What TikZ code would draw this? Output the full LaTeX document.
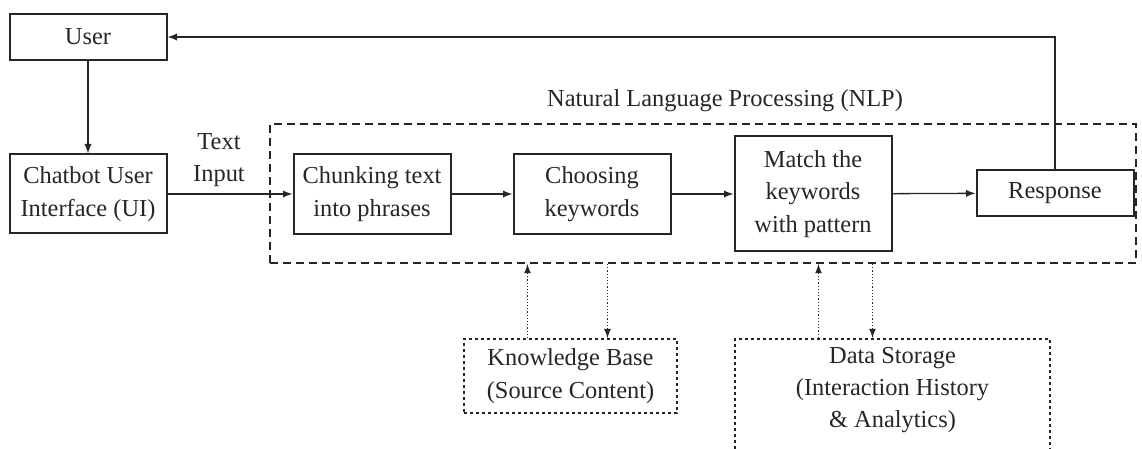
\documentclass[tikz,border=0pt]{standalone}
\usepackage{fontspec}
\setmainfont{Liberation Serif}
\usetikzlibrary{arrows,positioning,calc}
\tikzset{
  blk/.style={draw=black!85, line width=1pt, align=center, minimum width=78.5pt, inner sep=2pt},
  dbox/.style={draw=black!85, line width=0.9pt, dash pattern=on 1.6pt off 1.4pt, align=center, inner sep=3pt},
  flow/.style={draw=black!85, line width=0.65pt, -latex},
  dflow/.style={draw=black!85, line width=0.6pt, densely dotted, -latex}
}
\begin{document}
\begin{tikzpicture}[x=0.5pt, y=-0.5pt, font=\fontsize{12.2}{16.2}\selectfont, text=black!85]
    \clip (0,0) rectangle (1142,449);
    % Outer blocks
    \node[blk, minimum height=23pt] (user) at (88,37) {User};
    \node[blk, minimum height=39.5pt] (chatui) at (88,194) {Chatbot User\\Interface (UI)};
    \node (txtin) at (219,160) [align=center] {Text\\Input};

    % NLP frame
    \node[draw=black!85, line width=1pt, dash pattern=on 4pt off 2.5pt,
          minimum width=433pt, minimum height=69.5pt, inner sep=0pt] (nlp) at (703,193.5) {};
    \node (nlptitle) at (725,101) {Natural Language Processing (NLP)};

    % Processing steps
    \node[blk, minimum height=40pt] (chunk) at (372,194) {Chunking text\\into phrases};
    \node[blk, minimum height=40pt] (choose) at (592,194) {Choosing\\keywords};
    \node[blk, minimum height=57.5pt] (match) at (813,194) {Match the\\keywords\\with pattern};
    \node[blk, minimum height=23pt] (resp) at (1055,193) {Response};

    % Storage
    \node[dbox, minimum width=106.5pt, minimum height=37pt] (kb) at (570.5,376) {Knowledge Base\\(Source Content)};
    \node[dbox, minimum width=157.5pt, anchor=north, inner ysep=4pt, text depth=30pt] (store) at (892.5,338) {Data Storage\\(Interaction History\\\& Analytics)};

    % Main flow
    \draw[flow] (user) -- (chatui);
    \draw[flow] (chatui) -- (chunk);
    \draw[flow] (chunk) -- (choose);
    \draw[flow] (choose) -- (match);
    \draw[flow] (match) -- (resp);
    \draw[flow] (resp.north) |- (user.east);

    % Dotted links to storage
    \draw[dflow] ([xshift=-21.5pt]kb.north) -- ([xshift=-21.5pt]kb.north |- nlp.south);
    \draw[dflow] ([xshift=18.5pt]kb.north |- nlp.south) -- ([xshift=18.5pt]kb.north);
    \draw[dflow] ([xshift=-37pt]store.north) -- ([xshift=-37pt]store.north |- nlp.south);
    \draw[dflow] ([xshift=-10pt]store.north |- nlp.south) -- ([xshift=-10pt]store.north);
\end{tikzpicture}
\end{document}
